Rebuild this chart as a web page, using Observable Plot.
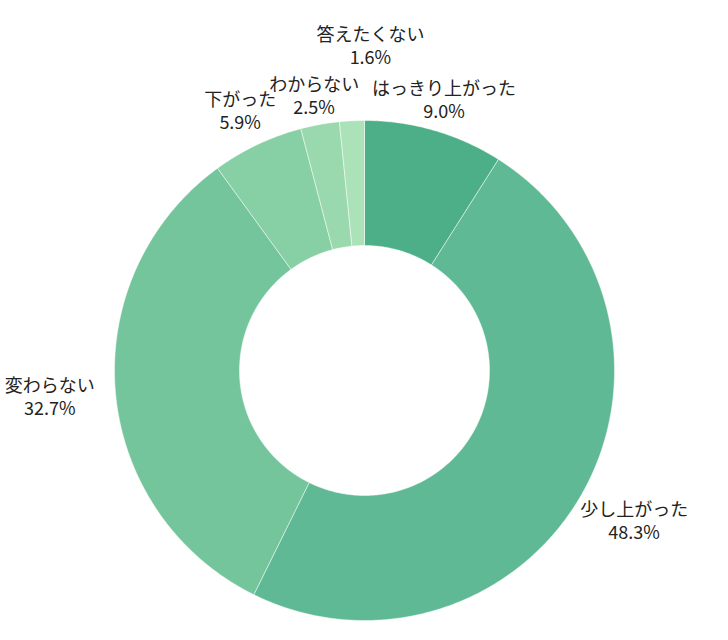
<!DOCTYPE html>
<html><head><meta charset="utf-8">
<script src="https://cdn.jsdelivr.net/npm/d3@7"></script>
<script src="https://cdn.jsdelivr.net/npm/@observablehq/plot@0.6"></script>
<style>body{margin:0;background:#fff}</style>
</head><body><div id="chart"></div>
<script>
const categories = ["はっきり上がった","少し上がった","変わらない","下がった","わからない","答えたくない"];
const values = [9.0, 48.3, 32.7, 5.9, 2.5, 1.6];
const colors = ["#4caf87","#5eb994","#74c59c","#87cfa4","#99d9ad","#abe2b8"];

const W = 728, H = 640, cx = 364, cy = 370, R = 250, R0 = 125;
const FS = 18, LS = 23;

const arcs = d3.pie().sort(null).value(d => d)(values);

// polygon outlines of each donut slice
const pts = [];
arcs.forEach((p, i) => {
  const a0 = p.startAngle, a1 = p.endAngle, cat = categories[i];
  const n = Math.max(2, Math.ceil((a1 - a0) / (Math.PI / 360)));
  for (let k = 0; k <= n; k++) {
    const a = a0 + (a1 - a0) * k / n;
    pts.push({cat, x: cx + R * Math.sin(a), y: cy - R * Math.cos(a)});
  }
  for (let k = n; k >= 0; k--) {
    const a = a0 + (a1 - a0) * k / n;
    pts.push({cat, x: cx + R0 * Math.sin(a), y: cy - R0 * Math.cos(a)});
  }
  pts.push({cat, x: cx + R * Math.sin(a0), y: cy - R * Math.cos(a0)});
});

// label positions (with simple collision avoidance)
const labels = [];
arcs.forEach((p, i) => {
  const a = (p.startAngle + p.endAngle) / 2;
  const s = Math.sin(a), c = Math.cos(a);
  const r = 280 + 36 * Math.pow(Math.abs(s), 1.5);
  const w = categories[i].length * FS * 0.85;
  const h = 2 * LS;
  const lab = {name: categories[i], pct: values[i].toFixed(1) + "%", x: cx + r * s, y: cy - r * c + 1 + 3 * c, w, h};
  let moved = true;
  while (moved) {
    moved = false;
    for (const o of labels) {
      const ox = Math.abs(lab.x - o.x) < (lab.w + o.w) / 2;
      const oy = Math.abs(lab.y - o.y) < (lab.h + o.h) / 2 - 0.5;
      if (ox && oy) {
        lab.y = o.y - (lab.h + o.h) / 2 - 8;
        lab.x += 20;
        moved = true;
      }
    }
  }
  labels.push(lab);
});

const chart = Plot.plot({
  width: W, height: H,
  margin: 0,
  x: {domain: [0, W], range: [0, W], axis: null},
  y: {domain: [0, H], range: [0, H], axis: null},
  color: {domain: categories, range: colors},
  style: {fontFamily: "'Noto Sans CJK JP', 'Noto Sans', sans-serif", background: "#fff"},
  marks: [
    Plot.line(pts, {x: "x", y: "y", z: "cat", fill: "cat", stroke: "#ffffff", strokeWidth: 0.8, strokeOpacity: 0.6}),
    Plot.text(labels, {x: "x", y: d => d.y - LS / 2, text: "name", fontSize: FS, textAnchor: "middle", lineAnchor: "middle", fill: "#222"}),
    Plot.text(labels, {x: "x", y: d => d.y + LS / 2, text: "pct", fontSize: FS, textAnchor: "middle", lineAnchor: "middle", fill: "#222"})
  ]
});
document.getElementById("chart").appendChild(chart);
</script>
</body></html>
